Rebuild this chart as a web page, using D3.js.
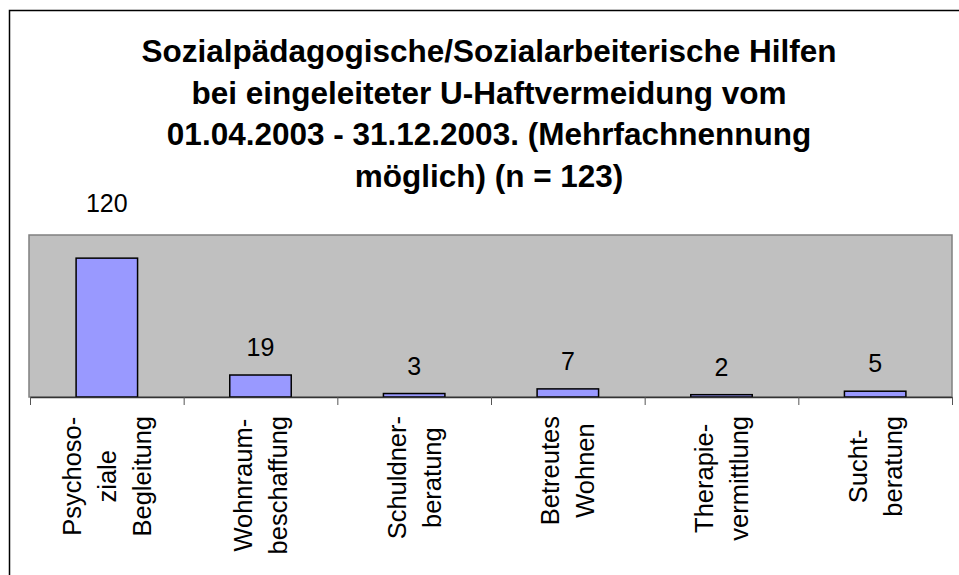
<!DOCTYPE html>
<html>
<head>
<meta charset="utf-8">
<script src="https://cdn.jsdelivr.net/npm/d3@7"></script>
<style>
  body { margin: 0; background: #fff; }
</style>
</head>
<body>
<div id="chart"></div>
<script>
// data
var categories = ["Psychosoziale Begleitung", "Wohnraumbeschaffung", "Schuldnerberatung",
                  "Betreutes Wohnen", "Therapievermittlung", "Suchtberatung"];
var categoryLines = [["Psychoso-", "ziale", "Begleitung"],
                     ["Wohnraum-", "beschaffung"],
                     ["Schuldner-", "beratung"],
                     ["Betreutes", "Wohnen"],
                     ["Therapie-", "vermittlung"],
                     ["Sucht-", "beratung"]];
var values = [120, 19, 3, 7, 2, 5];
var titleLines = ["Sozialpädagogische/Sozialarbeiterische Hilfen",
                  "bei eingeleiteter U-Haftvermeidung vom",
                  "01.04.2003 - 31.12.2003. (Mehrfachnennung",
                  "möglich) (n = 123)"];
var yMax = 140;

var width = 959, height = 575;
var plot = {left: 29, right: 952, top: 235, bottom: 397};

var svg = d3.select("#chart")
  .append("svg")
    .attr("width", width)
    .attr("height", height)
    .style("font-family", "'Liberation Sans', Arial, sans-serif");

// chart frame (right / bottom edges fall outside the picture)
svg.append("rect")
    .attr("x", 9.5).attr("y", 10.5)
    .attr("width", 1000).attr("height", 1000)
    .attr("fill", "none")
    .attr("stroke", "#000")
    .attr("stroke-width", 1.5);

// title
svg.append("g").selectAll("text")
    .data(titleLines)
  .enter().append("text")
    .attr("x", 489)
    .attr("y", function(d, i) { return 62 + i * 41.7; })
    .attr("text-anchor", "middle")
    .attr("font-size", 31.5)
    .attr("font-weight", "bold")
    .text(function(d) { return d; });

// scales
var x = d3.scaleBand()
    .domain(categories)
    .range([plot.left + 1, plot.right]);
var xEdge = d3.scaleLinear()
    .domain([0, categories.length])
    .range([plot.left + 1, plot.right]);
var y = d3.scaleLinear()
    .domain([0, yMax])
    .range([plot.bottom, plot.top]);

// plot area
svg.append("rect")
    .attr("x", plot.left)
    .attr("y", plot.top)
    .attr("width", plot.right - plot.left)
    .attr("height", plot.bottom - plot.top)
    .attr("fill", "#C0C0C0")
    .attr("stroke", "#808080")
    .attr("stroke-width", 1.5);

// bars
var barW = x.bandwidth() * 0.4;
svg.selectAll(".bar")
    .data(values)
  .enter().append("rect")
    .attr("class", "bar")
    .attr("x", function(d, i) { return x(categories[i]) + (x.bandwidth() - barW) / 2; })
    .attr("y", function(d) { return y(d); })
    .attr("width", barW)
    .attr("height", function(d) { return y(0) - y(d); })
    .attr("fill", "#9999FF")
    .attr("stroke", "#000")
    .attr("stroke-width", 1.5);

// x axis with ticks between categories
svg.append("g")
    .attr("transform", "translate(0," + plot.bottom + ")")
    .call(d3.axisBottom(xEdge)
      .tickValues(d3.range(categories.length + 1))
      .tickFormat("")
      .tickSize(8)
      .tickSizeOuter(0))
    .call(function(g) {
      g.select(".domain").attr("stroke", "#333").attr("stroke-width", 1.5);
      g.selectAll(".tick line").attr("stroke", "#555").attr("stroke-width", 1);
    });

// value labels (first one sits above the plot area)
svg.selectAll(".val")
    .data(values)
  .enter().append("text")
    .attr("class", "val")
    .attr("x", function(d, i) { return x(categories[i]) + x.bandwidth() / 2; })
    .attr("y", function(d, i) { return y(d) - 19 - (i === 0 ? 27 : 0); })
    .attr("text-anchor", "middle")
    .attr("font-size", 25)
    .attr("fill", "#000")
    .text(function(d) { return d; });

// category labels, rotated
var lineGap = 35;
categories.forEach(function(c, i) {
  var lines = categoryLines[i];
  var cx = x(c) + x.bandwidth() / 2;
  var g = svg.append("g");
  var texts = g.selectAll("text")
      .data(lines)
    .enter().append("text")
      .attr("font-size", 25.5)
      .attr("text-anchor", "middle")
      .attr("dominant-baseline", "central")
      .text(function(d) { return d; });
  var maxLen = d3.max(texts.nodes(), function(n) { return n.getComputedTextLength(); });
  var cy = 416 + maxLen / 2;
  texts.attr("transform", function(d, j) {
    var lx = cx + (j - (lines.length - 1) / 2) * lineGap;
    return "translate(" + lx + "," + cy + ") rotate(-90)";
  });
});
</script>
</body>
</html>
